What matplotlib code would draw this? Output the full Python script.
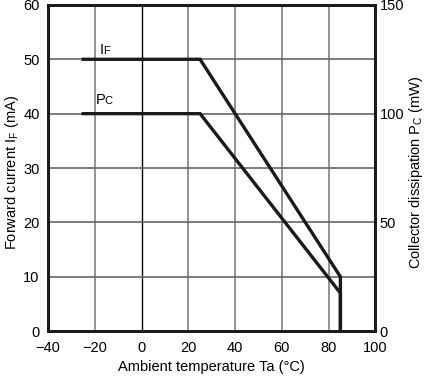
import matplotlib
matplotlib.use("Agg")
import matplotlib.pyplot as plt

plt.rcParams['font.family'] = ['Liberation Sans', 'DejaVu Sans']

# Data
if_temp = [-25, 25, 85, 85]
if_current = [50, 50, 10, 0]
pc_temp = [-25, 25, 85, 85]
pc_power = [100, 100, 17.5, 0]

x_ticks = [-40, -20, 0, 20, 40, 60, 80, 100]
y_left_ticks = [0, 10, 20, 30, 40, 50, 60]
y_right_ticks = [0, 50, 100, 150]

fig = plt.figure(figsize=(4.25, 3.78), dpi=100)
ax = fig.add_axes([0.113, 0.124, 0.7705, 0.863])
ax2 = ax.twinx()

ax.set_xlim(-40, 100)
ax.set_ylim(0, 60)
ax2.set_ylim(0, 150)

# grid
for x in x_ticks[1:-1]:
    ax.axvline(x, color='black' if x == 0 else '#8a8a8a', lw=1.0 if x == 0 else 1.3, zorder=1)
for y in y_left_ticks[1:-1]:
    ax.axhline(y, color='#666666', lw=1.2, zorder=1)

ax.plot(if_temp, if_current, color='#1a1a1a', lw=2.4, solid_joinstyle='miter', zorder=3)
ax2.plot(pc_temp, pc_power, color='#1a1a1a', lw=2.4, solid_joinstyle='miter', zorder=3)

ax.set_xticks(x_ticks)
ax.set_yticks(y_left_ticks)
ax2.set_yticks(y_right_ticks)
ax.tick_params(axis='x', length=0, labelsize=10.5, pad=7)
ax.tick_params(axis='y', length=0, labelsize=10.5, pad=6)
ax2.tick_params(axis='y', length=0, labelsize=10.5, pad=3)

for a in (ax, ax2):
    for s in a.spines.values():
        s.set_linewidth(2.0)
        s.set_color('#1a1a1a')

ax.set_xlabel('Ambient temperature Ta (°C)', fontsize=10.5, labelpad=4)
fig.text(12 / 425, 1 - 172 / 378, r'Forward current I$_\mathregular{F}$ (mA)',
         fontsize=10.5, rotation=90, ha='center', va='center')
fig.text(416 / 425, 1 - 172 / 378, r'Collector dissipation P$_\mathregular{C}$ (mW)',
         fontsize=10.5, rotation=90, ha='center', va='center')

ax.text(-18, 51, 'I', fontsize=10.5, ha='left', va='baseline', zorder=4)
ax.text(-16.3, 51, 'F', fontsize=8, ha='left', va='baseline', zorder=4)
ax.text(-19.5, 41.8, 'P', fontsize=10.5, ha='left', va='baseline', zorder=4)
ax.text(-15.7, 41.8, 'C', fontsize=8, ha='left', va='baseline', zorder=4)

fig.savefig('out.png', dpi=100)
